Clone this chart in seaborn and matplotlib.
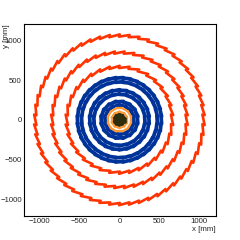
import numpy as np
import pandas as pd
import matplotlib
matplotlib.use("Agg")
import matplotlib.pyplot as plt
from matplotlib.ticker import MultipleLocator
import seaborn as sns

# detector layers (radius in mm, modules per layer)
layer_group = ["strip", "strip", "strip",
               "barrel", "barrel", "barrel", "barrel", "barrel", "barrel",
               "pixel", "pixel",
               "inner", "inner", "inner", "inner"]
layer_radius = [1058, 845, 662,
                527, 475, 372, 320, 228, 180,
                145, 97,
                66, 46, 27, 10]
layer_modules = [54, 44, 34,
                 36, 32, 26, 22, 16, 14,
                 12, 10,
                 10, 8, 6, 4]
layer_tilt = [12, 12, 12,
              4, 4, 4, 4, 4, 4,
              0, 0,
              0, 0, 0, 0]

group_color = {"strip": "#ff3300", "barrel": "#003399",
               "pixel": "#ff9933", "inner": "#2e2e0c"}
group_width = {"strip": 1.9, "barrel": 2.7, "pixel": 1.6, "inner": 1.9}

x_ticks = [-1000, -500, 0, 500, 1000]
y_ticks = [-1000, -500, 0, 500, 1000]

# build module segments from the layer table
rows = []
seg = 0
for grp, r, n, tilt in zip(layer_group, layer_radius, layer_modules, layer_tilt):
    t = np.radians(tilt)
    half = r * np.tan(np.pi / n) / np.cos(t) * 1.08
    for i in range(n):
        phi = 2 * np.pi * i / n
        cx, cy = r * np.cos(phi), r * np.sin(phi)
        dx, dy = -np.sin(phi + t), np.cos(phi + t)
        for s in (-1, 1):
            rows.append({"x": cx + s * half * dx, "y": cy + s * half * dy,
                         "seg": seg, "group": grp})
        seg += 1
df = pd.DataFrame(rows)

sns.set_style("white")
plt.rcParams["font.family"] = ["Liberation Sans", "DejaVu Sans"]

fig = plt.figure(figsize=(2.4, 2.4), dpi=100)
ax = fig.add_axes([0.1, 0.1, 0.8, 0.8])

for grp in ["strip", "barrel", "pixel", "inner"]:
    sns.lineplot(data=df[df["group"] == grp], x="x", y="y", units="seg",
                 estimator=None, sort=False, color=group_color[grp],
                 linewidth=group_width[grp], legend=False, ax=ax)

ax.set_xlim(-1200, 1215)
ax.set_ylim(-1210, 1205)
ax.set_xticks(x_ticks)
ax.set_yticks(y_ticks)
ax.xaxis.set_minor_locator(MultipleLocator(100))
ax.yaxis.set_minor_locator(MultipleLocator(100))
ax.tick_params(which="both", direction="in", top=False, right=False,
               labelsize=5.6, width=0.7, pad=1.5)
ax.tick_params(which="major", length=4)
ax.tick_params(which="minor", length=2)
for sp in ax.spines.values():
    sp.set_linewidth(0.8)
    sp.set_color("black")

ax.set_xlabel("x [mm]", fontsize=5.7, loc="right", labelpad=1)
ax.set_ylabel("y [mm]", fontsize=5.7, loc="top")
ax.yaxis.set_label_coords(-0.072, 1.0)

fig.savefig("out.png", dpi=100)
